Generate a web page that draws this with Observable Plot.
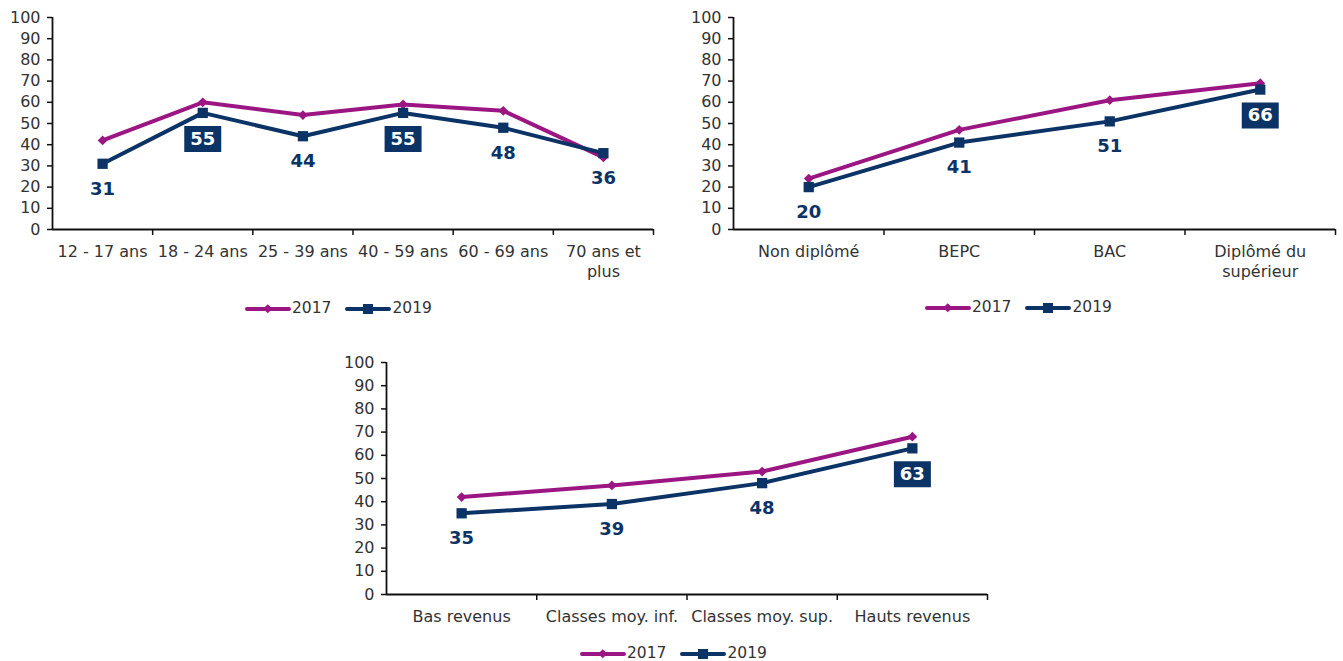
<!DOCTYPE html>
<html><head><meta charset="utf-8">
<script src="https://cdn.jsdelivr.net/npm/d3@7"></script>
<script src="https://cdn.jsdelivr.net/npm/@observablehq/plot@0.6"></script>
<style>
body{margin:0;background:#fff;font-family:"DejaVu Sans",Verdana,sans-serif;}
#root{position:relative;width:1343px;height:661px;overflow:hidden;}
.panel{position:absolute;}
.panel svg{max-width:none !important;}
.legend{position:absolute;display:flex;align-items:center;font-size:15.5px;color:#333;line-height:1;}
.legend span{margin-left:1px;margin-right:14px;}
</style></head>
<body><div id="root"></div>
<script>
// ---- Data ----
const years = ["2017", "2019"];
const ageCategories = ["12 - 17 ans", "18 - 24 ans", "25 - 39 ans", "40 - 59 ans", "60 - 69 ans", "70 ans et\nplus"];
const age2017 = [42, 60, 54, 59, 56, 34];
const age2019 = [31, 55, 44, 55, 48, 36];
const ageBoxed = [false, true, false, true, false, false];

const diplomaCategories = ["Non diplômé", "BEPC", "BAC", "Diplômé du\nsupérieur"];
const diploma2017 = [24, 47, 61, 69];
const diploma2019 = [20, 41, 51, 66];
const diplomaBoxed = [false, false, false, true];

const incomeCategories = ["Bas revenus", "Classes moy. inf.", "Classes moy. sup.", "Hauts revenus"];
const income2017 = [42, 47, 53, 68];
const income2019 = [35, 39, 48, 63];
const incomeBoxed = [false, false, false, true];

const yTicks = d3.range(0, 101, 10);

// ---- Style ----
const C17 = "#9c1683";
const C19 = "#0c3366";
const FONT = "DejaVu Sans, Verdana, sans-serif";

const boxSymbol = {draw(ctx) { ctx.rect(-18.5, -13, 37, 26); }};

function panel(cfg) {
  const n = cfg.categories.length;
  const rows17 = cfg.categories.map((c, i) => ({i: i + 0.5, v: cfg.v17[i]}));
  const rows19 = cfg.categories.map((c, i) => ({i: i + 0.5, v: cfg.v19[i], boxed: cfg.boxed[i]}));
  const labels = cfg.categories.map((c, i) => ({i: i + 0.5, c}));
  const svg = Plot.plot({
    width: cfg.width,
    height: cfg.height,
    marginLeft: 52,
    marginRight: cfg.marginRight,
    marginTop: 17,
    marginBottom: cfg.marginBottom,
    style: {fontFamily: FONT, fontSize: "16px", color: "#333", background: "transparent", overflow: "visible"},
    x: {domain: [0, n], axis: null},
    y: {domain: [0, 100], axis: null},
    marks: [
      Plot.axisY({ticks: yTicks, label: null, tickSize: 5, tickPadding: 7, fontSize: 16, fill: "#333", stroke: "#111", strokeWidth: 1.5}),
      Plot.axisX({ticks: d3.range(1, n + 1), label: null, tickSize: 6, tickFormat: () => "", stroke: "#111", strokeWidth: 1.5}),
      Plot.text(labels, {x: "i", y: 0, text: "c", dy: 13, lineAnchor: "top", lineHeight: 1.25, fontSize: 16, fill: "#333"}),
      Plot.ruleX([0], {stroke: "#111", strokeWidth: 1.8}),
      Plot.ruleY([0], {stroke: "#111", strokeWidth: 1.8}),
      Plot.line(rows17, {x: "i", y: "v", stroke: C17, strokeWidth: 4}),
      Plot.dot(rows17, {x: "i", y: "v", symbol: "diamond2", r: 4.4, fill: C17, stroke: "none"}),
      Plot.line(rows19, {x: "i", y: "v", stroke: C19, strokeWidth: 4}),
      Plot.dot(rows19, {x: "i", y: "v", symbol: "square", r: 5.8, fill: C19, stroke: "none"}),
      Plot.text(rows19.filter(d => !d.boxed), {x: "i", y: "v", text: d => String(d.v), dy: 25, fontSize: 18, fontWeight: "bold", fill: C19}),
      Plot.dot(rows19.filter(d => d.boxed), {x: "i", y: "v", symbol: boxSymbol, r: 5, fill: C19, stroke: "none", dy: 26}),
      Plot.text(rows19.filter(d => d.boxed), {x: "i", y: "v", text: d => String(d.v), dy: 26, fontSize: 18, fontWeight: "bold", fill: "#fff"})
    ]
  });
  const div = document.createElement("div");
  div.className = "panel";
  div.style.left = cfg.left + "px";
  div.style.top = cfg.top + "px";
  div.style.width = cfg.width + "px";
  div.appendChild(svg);
  document.getElementById("root").appendChild(div);

  const leg = document.createElement("div");
  leg.className = "legend";
  leg.style.left = cfg.legendLeft + "px";
  leg.style.top = (cfg.legendY - 7) + "px";
  const sw = (color, shape) => {
    const marker = shape === "diamond"
      ? `<rect x="19.5" y="2.5" width="6.5" height="6.5" transform="rotate(45 22.75 5.75)" fill="${color}"/>`
      : `<rect x="18" y="1" width="10" height="10" fill="${color}"/>`;
    return `<svg width="46" height="12" style="display:block"><line x1="2" y1="6" x2="44" y2="6" stroke="${color}" stroke-width="4" stroke-linecap="round"/>${marker}</svg>`;
  };
  leg.innerHTML = `${sw(C17, "diamond")}<span>${years[0]}</span>${sw(C19, "square")}<span>${years[1]}</span>`;
  document.getElementById("root").appendChild(leg);
}

panel({left: 0, top: 0, width: 670, height: 290, marginRight: 17, marginBottom: 61,
  categories: ageCategories, v17: age2017, v19: age2019, boxed: ageBoxed, legendLeft: 245, legendY: 308});
panel({left: 681, top: 0, width: 660, height: 290, marginRight: 6, marginBottom: 61,
  categories: diplomaCategories, v17: diploma2017, v19: diploma2019, boxed: diplomaBoxed, legendLeft: 925, legendY: 307});
panel({left: 334, top: 345, width: 670, height: 290, marginRight: 17, marginBottom: 41,
  categories: incomeCategories, v17: income2017, v19: income2019, boxed: incomeBoxed, legendLeft: 580, legendY: 653});
</script>
</body></html>
